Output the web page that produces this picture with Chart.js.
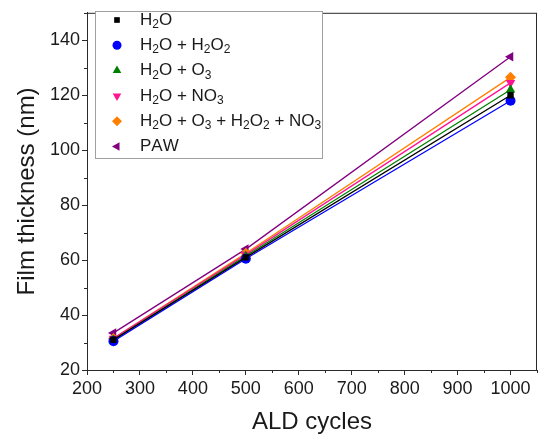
<!DOCTYPE html>
<html>
<head>
<meta charset="utf-8">
<script src="https://cdn.jsdelivr.net/npm/chart.js@4.4.1/dist/chart.umd.min.js"></script>
<style>
  html, body { margin: 0; padding: 0; background: #fff; }
  #wrap { width: 544px; height: 434px; }
</style>
</head>
<body>
<div id="wrap"><canvas id="filmChart" width="544" height="434"></canvas></div>
<script>
// Data
const cycles = [250, 500, 1000];
const seriesNames = ['H₂O', 'H₂O + H₂O₂', 'H₂O + O₃', 'H₂O + NO₃', 'H₂O + O₃ + H₂O₂ + NO₃', 'PAW'];
const h2o = [31, 61, 120];
const h2oH2o2 = [30.5, 60.5, 118];
const h2oO3 = [31, 61.5, 122];
const h2oNo3 = [31.5, 62, 124.5];
const h2oMix = [31.5, 62.5, 126.5];
const paw = [33.5, 64, 134];
const xTicks = [200, 300, 400, 500, 600, 700, 800, 900, 1000];
const yTicks = [20, 40, 60, 80, 100, 120, 140];

const colors = ['#000000', '#0000ff', '#008000', '#ff1493', '#ff8000', '#800080'];
const shapes = ['rect', 'circle', 'triangle', 'triangle', 'rectRot', 'triangle'];
const rotations = [0, 0, 0, 180, 0, 270];
const radii = [4.5, 5, 5.5, 5.5, 5.5, 5.5];
const allValues = [h2o, h2oH2o2, h2oO3, h2oNo3, h2oMix, paw];

const FONT = '"Liberation Sans", Arial, sans-serif';
const AXIS = '#2a2a2a';
const TEXT = '#1a1a1a';

const datasets = allValues.map((vals, i) => ({
  label: seriesNames[i],
  data: vals.map((v, j) => ({ x: cycles[j], y: v })),
  showLine: true,
  borderColor: colors[i],
  backgroundColor: colors[i],
  borderWidth: 1.3,
  pointStyle: shapes[i],
  rotation: rotations[i],
  pointRadius: radii[i],
  pointBorderWidth: 0,
  pointHoverRadius: radii[i]
}));

// draw text with unicode subscript digits lowered and shrunk
const subMap = { '₂': '2', '₃': '3' };
function drawSubText(ctx, text, x, y, size) {
  let cx = x;
  for (const ch of text) {
    if (subMap[ch]) {
      ctx.font = `${Math.round(size * 0.68)}px ${FONT}`;
      ctx.fillText(subMap[ch], cx, y + size * 0.28);
      cx += ctx.measureText(subMap[ch]).width;
    } else {
      ctx.font = `${size}px ${FONT}`;
      ctx.fillText(ch, cx, y);
      cx += ctx.measureText(ch).width;
    }
  }
}

const framePlugin = {
  id: 'frame',
  afterDraw(chart) {
    const { ctx, chartArea: a, scales } = chart;
    ctx.save();
    ctx.strokeStyle = AXIS;
    ctx.lineWidth = 1;
    ctx.strokeRect(a.left + 0.5, a.top + 0.5, a.right - a.left - 1, a.bottom - a.top);
    // minor ticks
    ctx.beginPath();
    for (let v = 250; v <= 1050; v += 100) {
      const px = Math.round(scales.x.getPixelForValue(v)) + 0.5;
      ctx.moveTo(px, a.bottom);
      ctx.lineTo(px, a.bottom + 3);
    }
    for (let v = 30; v <= 150; v += 20) {
      const py = Math.round(scales.y.getPixelForValue(v)) + 0.5;
      ctx.moveTo(a.left, py);
      ctx.lineTo(a.left - 3, py);
    }
    ctx.stroke();

    // legend box
    const bx = 95, by = 11, bw = 227, bh = 147;
    ctx.fillStyle = '#ffffff';
    ctx.fillRect(bx, by, bw, bh);
    ctx.strokeStyle = '#a0a0a0';
    ctx.strokeRect(bx + 0.5, by + 0.5, bw, bh);
    ctx.textBaseline = 'middle';
    ctx.textAlign = 'left';
    seriesNames.forEach((name, i) => {
      const ry = 20 + i * 25.3;
      ctx.fillStyle = colors[i];
      Chart.helpers.drawPoint(ctx, {
        pointStyle: shapes[i], rotation: rotations[i], radius: radii[i] - 0.5, borderWidth: 0
      }, 117, ry);
      ctx.fillStyle = TEXT;
      drawSubText(ctx, name, 140, ry, 17);
    });
    ctx.restore();
  }
};

new Chart(document.getElementById('filmChart'), {
  type: 'scatter',
  data: { datasets: datasets },
  plugins: [framePlugin],
  options: {
    responsive: false,
    animation: false,
    layout: { padding: { top: 7, right: 7, left: 0, bottom: 0 } },
    plugins: { legend: { display: false }, tooltip: { enabled: false } },
    scales: {
      x: {
        type: 'linear',
        min: 200,
        max: 1050,
        afterBuildTicks: (scale) => { scale.ticks = xTicks.map(v => ({ value: v })); },
        afterFit: (scale) => { scale.height = 64; },
        ticks: { color: TEXT, font: { family: FONT, size: 18 }, padding: 3, maxRotation: 0, callback: (v) => String(v) },
        grid: { drawOnChartArea: false, drawTicks: true, tickLength: 5, tickColor: AXIS },
        border: { color: AXIS },
        title: { display: true, text: 'ALD cycles', color: TEXT, font: { family: FONT, size: 24, lineHeight: 1.0 }, padding: { top: 0, bottom: 0 } }
      },
      y: {
        type: 'linear',
        min: 20,
        max: 150,
        afterBuildTicks: (scale) => { scale.ticks = yTicks.map(v => ({ value: v })); },
        afterFit: (scale) => { scale.width = 87; },
        ticks: { color: TEXT, font: { family: FONT, size: 18 }, padding: 2, callback: (v) => String(v) },
        grid: { drawOnChartArea: false, drawTicks: true, tickLength: 5, tickColor: AXIS },
        border: { color: AXIS },
        title: { display: true, text: 'Film thickness (nm)', color: TEXT, font: { family: FONT, size: 24 }, padding: { top: 13, bottom: 0 } }
      }
    }
  }
});
</script>
</body>
</html>
